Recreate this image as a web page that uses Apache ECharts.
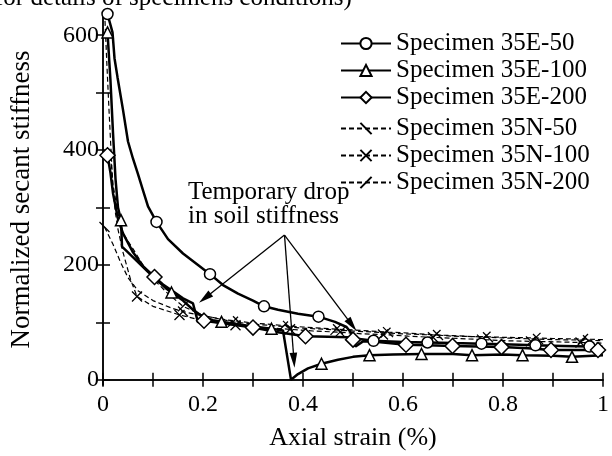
<!DOCTYPE html>
<html><head><meta charset="utf-8">
<script src="https://cdn.jsdelivr.net/npm/echarts@6/dist/echarts.min.js"></script>
<style>html,body{margin:0;padding:0;background:#fff}#c{width:612px;height:456px}</style>
</head><body><div id="c"></div>
<script>
const FONT = '"Liberation Serif","Times New Roman",serif';

const seriesNames = ['Specimen 35E-50','Specimen 35E-100','Specimen 35E-200','Specimen 35N-50','Specimen 35N-100','Specimen 35N-200'];

const e50Line = [[0.019,605],[0.023,560],[0.029,527],[0.04,470],[0.05,415],[0.06,385],[0.07,358],[0.08,330],[0.09,302],[0.13,245],[0.16,220],[0.19,200],[0.24,165],[0.27,150],[0.3,138],[0.35,122],[0.39,115],[0.464,101],[0.487,92],[0.505,72],[0.6,66],[0.7,64],[0.8,62],[0.92,59],[1.0,57]];
const e50Marks = [[0.009,637],[0.107,275],[0.214,184],[0.322,128],[0.431,110],[0.541,68],[0.649,65],[0.757,63],[0.865,60],[0.973,58]];

const e100Line = [[0.015,520],[0.02,430],[0.025,350],[0.03,300],[0.038,232],[0.05,222],[0.07,205],[0.09,188],[0.11,172],[0.125,160],[0.16,138],[0.18,122],[0.2,110],[0.22,104],[0.27,97],[0.3,93],[0.36,86],[0.376,0],[0.39,10],[0.41,20],[0.47,35],[0.5,40],[0.58,44],[0.7,45],[0.8,44],[0.9,42],[1.0,43]];
const e100Marks = [[0.009,605],[0.036,278],[0.137,152],[0.237,101],[0.337,89],[0.437,28],[0.533,43],[0.637,45],[0.738,43],[0.839,43],[0.938,40]];

const e200Line = [[0.015,360],[0.02,325],[0.03,280],[0.04,255],[0.06,222],[0.08,198],[0.12,166],[0.14,154],[0.16,142],[0.18,133],[0.19,100],[0.25,97],[0.35,83],[0.45,75],[0.49,74],[0.505,58],[0.52,67],[0.55,66],[0.65,60],[0.75,58],[0.85,55],[0.95,52],[1.0,52]];
const e200Marks = [[0.009,391],[0.103,179],[0.202,103],[0.30,91],[0.405,76],[0.50,70],[0.606,61],[0.699,59],[0.797,57],[0.896,52],[0.99,52]];

const n50Line = [[0.02,236],[0.035,205],[0.05,178],[0.07,155],[0.1,138],[0.14,124],[0.19,113],[0.25,104],[0.3,99],[0.4,92],[0.5,87],[0.6,82],[0.7,77],[0.8,73],[0.9,70],[1.0,68]];
const n50Marks = [[0.003,266],[0.16,119],[0.27,102],[0.37,94],[0.47,88],[0.57,83],[0.67,78],[0.77,74],[0.87,71],[0.97,69]];

const n100Line = [[0.004,625],[0.008,545],[0.012,470],[0.016,400],[0.02,330],[0.025,290],[0.03,262],[0.04,222],[0.055,175],[0.1,128],[0.2,103],[0.32,91],[0.42,85],[0.52,80],[0.61,76],[0.71,72],[0.81,68],[0.91,66],[1.0,64]];
const n100Marks = [[0.068,145],[0.153,113],[0.265,95],[0.374,88],[0.474,83],[0.56,79],[0.66,74],[0.758,70],[0.856,67],[0.955,65]];

const n200Line = [[0.015,390],[0.02,340],[0.03,290],[0.04,255],[0.06,228],[0.08,200],[0.1,176],[0.13,150],[0.2,112],[0.3,97],[0.4,90],[0.5,85],[0.6,80],[0.7,76],[0.8,74],[0.9,72],[1.0,70]];
const n200Marks = [[0.16,128],[0.26,101],[0.36,93],[0.465,87],[0.565,82],[0.665,78],[0.765,75],[0.865,73],[0.96,71]];

const yLabelValues = [0,200,400,600];
const yTickValues = [0,100,200,300,400,500,600];
const xLabelValues = [0,0.2,0.4,0.6,0.8,1];

const annoText = 'Temporary drop\nin soil stiffness';
const annoOrigin = [0.363,252];
const annoTips = [[0.192,134],[0.383,21],[0.507,85]];
const captionText = 'for details of specimens conditions)';

function build(line, marks){
  const d = line.map(p=>({value:p, symbol:'none'})).concat(marks.map(p=>({value:p})));
  d.sort((a,b)=>a.value[0]-b.value[0]);
  return d;
}

const chart = echarts.init(document.getElementById('c'), null, {renderer:'canvas'});
const txt = {fontFamily:FONT, fontSize:24, color:'#000'};
const txt25 = {fontFamily:FONT, fontSize:25, color:'#000'};
const axLine = {show:true, lineStyle:{color:'#000', width:1.5}};
const tick = {inside:true, length:7, lineStyle:{color:'#000', width:1.5}};

function solid(name, line, marks, symbol, size){
  return {name, type:'line', data:build(line,marks), symbol, symbolSize:size, showSymbol:true,
    lineStyle:{color:'#000', width:2.5}, itemStyle:{color:'#fff', borderColor:'#000', borderWidth:1.5},
    emphasis:{disabled:true}, animation:false, z:3};
}
function dashed(name, line, marks, symbol, size){
  return {name, type:'line', data:build(line,marks), symbol, symbolSize:size, showSymbol:true,
    lineStyle:{color:'#000', width:1.2, type:[5,3]}, itemStyle:{color:'#fff', borderColor:'#000', borderWidth:1.3},
    emphasis:{disabled:true}, animation:false, z:2};
}

const option = {
  animation:false,
  backgroundColor:'#fff',
  grid:{left:102, right:1, top:14, bottom:71},
  xAxis:[
    {type:'value', min:0, max:1, interval:0.1, position:'bottom', axisLine:axLine, axisTick:tick, splitLine:{show:false},
     axisLabel:Object.assign({margin:8, customValues:xLabelValues, formatter:v=>String(+v.toFixed(1))}, txt),
     name:'Axial strain (%)', nameLocation:'middle', nameGap:40, nameTextStyle:Object.assign({}, txt25, {fontSize:26})},
    {type:'value', min:0, max:1, interval:0.1, position:'top', axisLine:axLine, axisTick:tick, splitLine:{show:false}, axisLabel:{show:false}}
  ],
  yAxis:[
    {type:'value', min:-9, max:637, position:'left', axisLine:axLine, splitLine:{show:false},
     axisTick:Object.assign({customValues:yTickValues}, tick),
     axisLabel:Object.assign({margin:4, customValues:yLabelValues}, txt),
     name:'Normalized secant stiffness', nameLocation:'middle', nameGap:68, nameTextStyle:Object.assign({}, txt25, {fontSize:27})},
    {type:'value', min:-9, max:637, position:'right', axisLine:axLine, splitLine:{show:false},
     axisTick:Object.assign({customValues:yTickValues}, tick), axisLabel:{show:false}}
  ],
  legend:[
    {data:seriesNames.slice(0,3), orient:'vertical', left:335, top:26, itemWidth:50, itemHeight:14, itemGap:2,
     textStyle:Object.assign({lineHeight:24}, txt25), selectedMode:false},
    {data:seriesNames.slice(3), orient:'vertical', left:335, top:111, itemWidth:50, itemHeight:14, itemGap:2,
     textStyle:Object.assign({lineHeight:24}, txt25), selectedMode:false}
  ],
  series:[
    solid(seriesNames[0], e50Line, e50Marks, 'circle', 11),
    solid(seriesNames[1], e100Line, e100Marks, 'triangle', 11),
    solid(seriesNames[2], e200Line, e200Marks, 'diamond', 15),
    dashed(seriesNames[3], n50Line, n50Marks, 'path://M0,0L10,10', 10),
    dashed(seriesNames[4], n100Line, n100Marks, 'path://M0,0L10,10M10,0L0,10', 10),
    dashed(seriesNames[5], n200Line, n200Marks, 'path://M0,10L10,0', 10)
  ]
};
chart.setOption(option);

const o = chart.convertToPixel({gridIndex:0}, annoOrigin);
const g = [];
annoTips.forEach((t,i)=>{
  const p = chart.convertToPixel({gridIndex:0}, t);
  const dx = p[0]-o[0], dy = p[1]-o[1], L = Math.hypot(dx,dy);
  const ux = dx/L, uy = dy/L, hl = 15, hw = 3.8;
  const bx = p[0]-ux*hl, by = p[1]-uy*hl;
  g.push({type:'line', shape:{x1:o[0], y1:o[1], x2:bx+ux*2, y2:by+uy*2}, style:{stroke:'#000', lineWidth:1.3}, z:10});
  g.push({type:'polygon', shape:{points:[[p[0],p[1]],[bx-uy*hw, by+ux*hw],[bx+uy*hw, by-ux*hw]]}, style:{fill:'#000'}, z:10});
});
g.push({type:'text', left:188, top:180, z:10, style:{text:annoText, font:'25px '+FONT, lineHeight:24, fill:'#000'}});
g.push({type:'text', x:-5, y:-2, z:10, style:{text:captionText, font:'25px '+FONT, fill:'#000', textVerticalAlign:'middle'}});
chart.setOption({graphic:g});
</script>
</body></html>
